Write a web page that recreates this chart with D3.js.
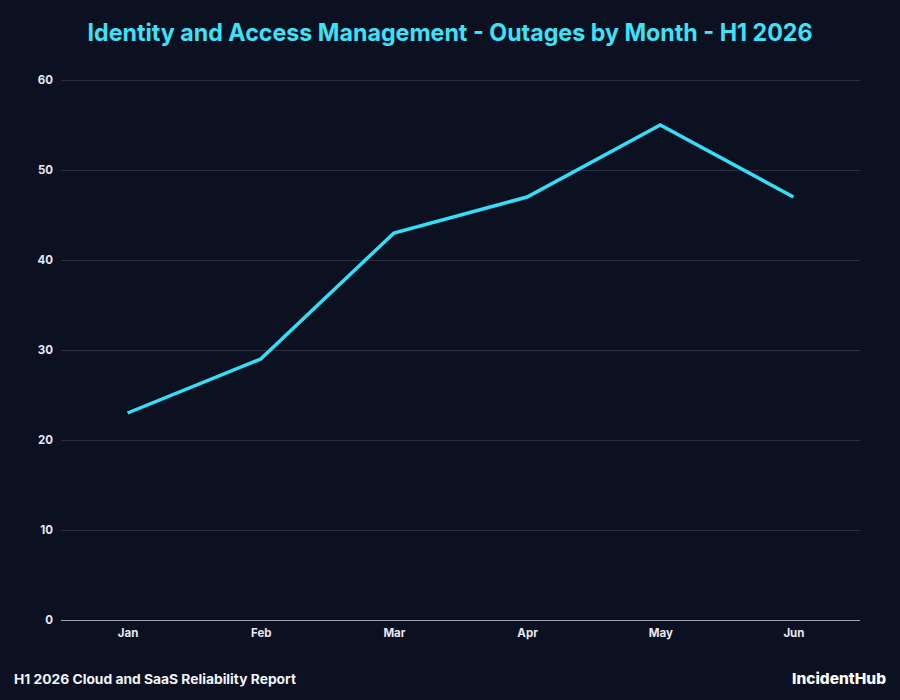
<!DOCTYPE html>
<html>
<head>
<meta charset="utf-8">
<script src="https://cdn.jsdelivr.net/npm/d3@7"></script>
<style>
  html, body { margin:0; padding:0; background:#0c1122; }
  svg text { font-family: "Inter", "Roboto", "DejaVu Sans", sans-serif; }
</style>
</head>
<body>
<svg id="chart" width="900" height="700"></svg>
<script>
// data
var months = ["Jan", "Feb", "Mar", "Apr", "May", "Jun"];
var outages = [23, 29, 43, 47, 55, 47];
var yTicks = [0, 10, 20, 30, 40, 50, 60];

var W = 900, H = 700;
var margin = {top: 80, right: 40, bottom: 80, left: 61};

var svg = d3.select("#chart");
svg.append("rect").attr("width", W).attr("height", H).attr("fill", "#0c1122");

var x = d3.scalePoint()
  .domain(months)
  .range([margin.left, W - margin.right])
  .padding(0.5);

var y = d3.scaleLinear()
  .domain([0, 60])
  .range([H - margin.bottom, margin.top]);

// gridlines
svg.append("g")
  .selectAll("line")
  .data(yTicks)
  .enter().append("line")
  .attr("x1", margin.left).attr("x2", W - margin.right)
  .attr("y1", function(d){ return y(d); })
  .attr("y2", function(d){ return y(d); })
  .attr("stroke", function(d){ return d === 0 ? "#a0a4ae" : "#2c3142"; })
  .attr("stroke-width", 1)
  .attr("shape-rendering", "crispEdges");

// y axis labels
var yAxis = d3.axisLeft(y).tickValues(yTicks).tickSize(0).tickPadding(8);
var gy = svg.append("g").attr("transform", "translate(" + margin.left + ",0)").call(yAxis);
gy.select(".domain").remove();
gy.selectAll("text")
  .attr("fill", "#e6e8ee")
  .style("font-size", "11.5px")
  .style("font-weight", "700");

// x axis labels
var xAxis = d3.axisBottom(x).tickSize(0).tickPadding(9);
var gx = svg.append("g").attr("transform", "translate(0," + (H - margin.bottom) + ")").call(xAxis);
gx.select(".domain").remove();
gx.selectAll("text")
  .attr("fill", "#e6e8ee")
  .style("font-size", "11.5px")
  .style("font-weight", "700");

// line
var line = d3.line()
  .x(function(d, i){ return x(months[i]); })
  .y(function(d){ return y(d); });

svg.append("path")
  .datum(outages)
  .attr("d", line)
  .attr("fill", "none")
  .attr("stroke", "#35def6")
  .attr("stroke-width", 3.5)
  .attr("stroke-linejoin", "miter");

// title
svg.append("text")
  .attr("x", W / 2).attr("y", 41)
  .attr("text-anchor", "middle")
  .attr("fill", "#3ee2f8")
  .style("font-size", "24px")
  .style("font-weight", "700")
  .attr("textLength", 725)
  .attr("lengthAdjust", "spacingAndGlyphs")
  .text("Identity and Access Management - Outages by Month - H1 2026");

// footer
svg.append("text")
  .attr("x", 14).attr("y", 684)
  .attr("fill", "#f2f3f6")
  .style("font-size", "13px")
  .style("font-weight", "700")
  .attr("textLength", 282)
  .attr("lengthAdjust", "spacingAndGlyphs")
  .text("H1 2026 Cloud and SaaS Reliability Report");

svg.append("text")
  .attr("x", 886).attr("y", 684)
  .attr("text-anchor", "end")
  .attr("fill", "#ffffff")
  .style("font-size", "15px")
  .style("font-weight", "800")
  .attr("textLength", 94)
  .attr("lengthAdjust", "spacingAndGlyphs")
  .text("IncidentHub");
</script>
</body>
</html>
